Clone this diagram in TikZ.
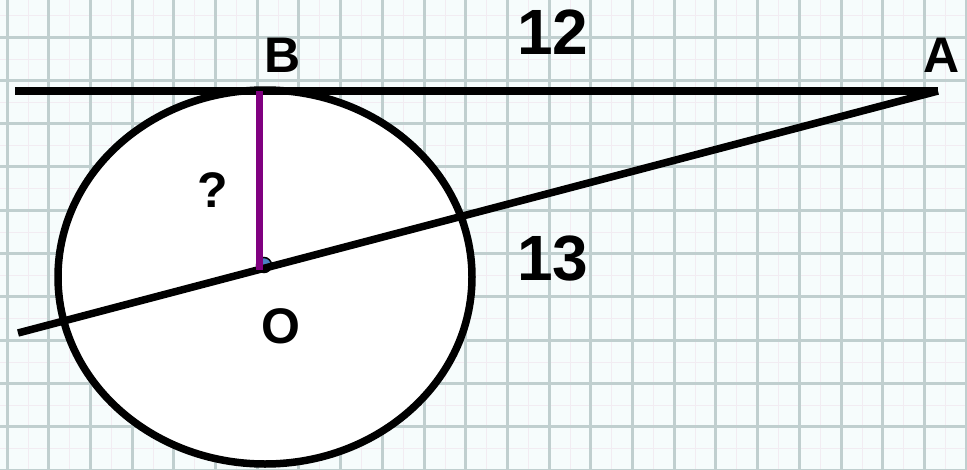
\documentclass[tikz,border=0pt]{standalone}
\usepackage{fontspec}
\setmainfont{Liberation Sans}
\usepackage{tikz}
\usetikzlibrary{positioning, calc}
\definecolor{paper}{RGB}{246,252,252}
\definecolor{gridline}{RGB}{192,207,207}
\definecolor{minorline}{RGB}{242,236,242}
\definecolor{radiuscol}{RGB}{128,0,128}
\definecolor{centerdot}{RGB}{74,130,196}

\tikzset{
  figline/.style={line width=7.5pt, black},
  biglabel/.style={font=\bfseries\fontsize{64}{64}\selectfont, inner sep=0pt},
  ptlabel/.style={font=\bfseries\fontsize{50}{50}\selectfont, inner sep=0pt}
}

\begin{document}
\begin{tikzpicture}[x=1pt, y=-1pt]
  \useasboundingbox (0,0) rectangle (967,469);
  % squared paper
  \fill[paper] (0,0) rectangle (967,469);
  \foreach \k in {0,...,23} {
    \draw[minorline, line width=1pt] ({28+41.7*\k},0) -- ++(0,469);
  }
  \foreach \k in {-1,...,10} {
    \draw[minorline, line width=1pt] (0,{59+43.3*\k}) -- ++(967,0);
  }
  \foreach \k in {0,...,23} {
    \draw[gridline, line width=3pt] ({7+41.7*\k},0) -- ++(0,469);
  }
  \foreach \k in {-1,...,10} {
    \draw[gridline, line width=3pt] (0,{37+43.3*\k}) -- ++(967,0);
  }

  % circle, points
  \draw[figline, fill=white] (265,277) ellipse (207 and 187);
  \coordinate (A) at (938,91);
  \coordinate (B) at (259,91);
  \coordinate (O) at (259,270);
  \coordinate (L) at (15,91);
  \coordinate (E) at (18,333);
  \node[circle, draw=black, line width=1.5pt, fill=centerdot, minimum size=15pt, inner sep=0pt] (dot) at (264,265) {};

  \draw[figline] (L) -- (A);
  \draw[figline] (A) -- (E);
  \draw[radiuscol, line width=7pt] (B) -- (O);

  % labels
  \node[ptlabel] (labB) at (283,55) {B};
  \node[ptlabel] (labA) at (942,55) {A};
  \node[ptlabel] (labO) at (281,326) {O};
  \node[ptlabel] (labq) at (213,190) {?};
  \node[biglabel] (lab12) at (553,32) {12};
  \node[biglabel] (lab13) at (553,259) {13};
\end{tikzpicture}
\end{document}
